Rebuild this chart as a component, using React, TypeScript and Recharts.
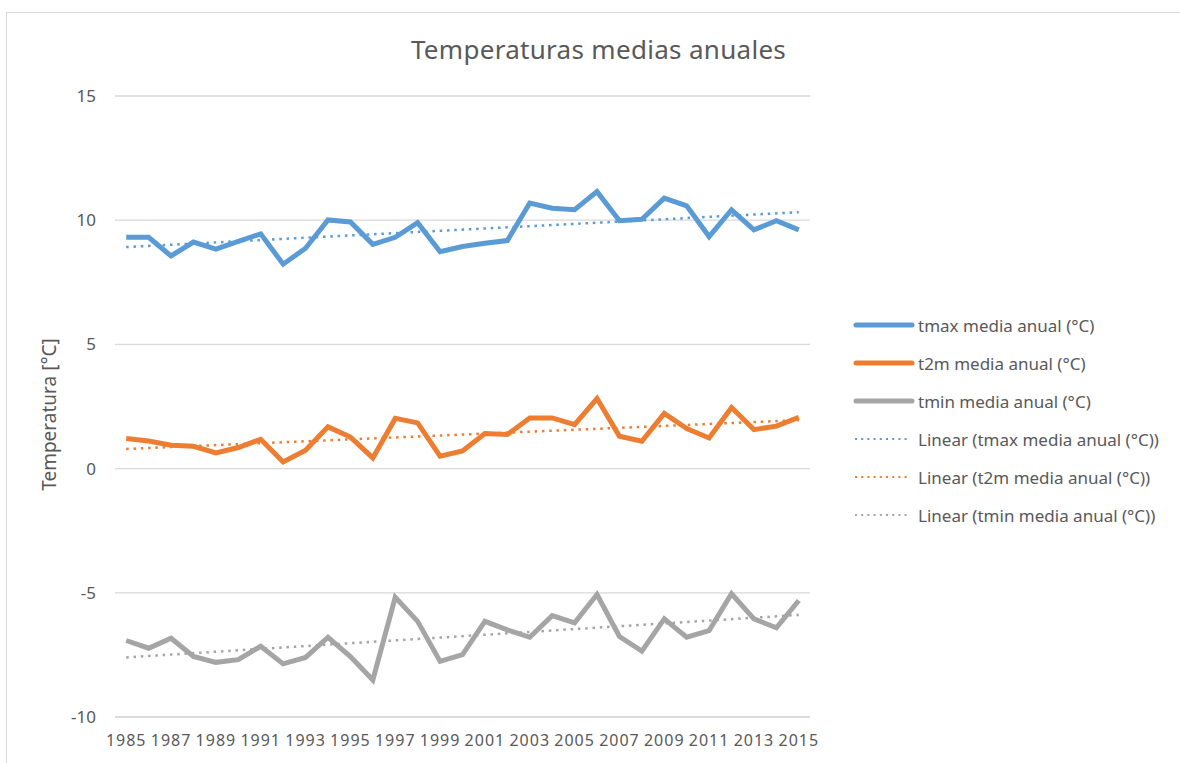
import React from 'react';
import { LineChart, Line, XAxis, YAxis, CartesianGrid, Legend } from 'recharts';

const years = [1985, 1986, 1987, 1988, 1989, 1990, 1991, 1992, 1993, 1994, 1995, 1996, 1997, 1998, 1999, 2000, 2001, 2002, 2003, 2004, 2005, 2006, 2007, 2008, 2009, 2010, 2011, 2012, 2013, 2014, 2015];
const tmax = [9.31, 9.31, 8.56, 9.12, 8.84, 9.15, 9.45, 8.23, 8.87, 10.01, 9.93, 9.03, 9.31, 9.9, 8.73, 8.94, 9.07, 9.18, 10.69, 10.48, 10.42, 11.15, 9.98, 10.04, 10.89, 10.58, 9.34, 10.42, 9.61, 9.98, 9.61];
const t2m = [1.21, 1.11, 0.94, 0.9, 0.63, 0.85, 1.18, 0.27, 0.74, 1.68, 1.27, 0.43, 2.02, 1.84, 0.5, 0.71, 1.41, 1.37, 2.04, 2.04, 1.77, 2.82, 1.3, 1.1, 2.22, 1.61, 1.23, 2.46, 1.57, 1.71, 2.06];
const tmin = [-6.92, -7.23, -6.83, -7.56, -7.8, -7.69, -7.15, -7.86, -7.6, -6.79, -7.57, -8.51, -5.18, -6.15, -7.76, -7.49, -6.15, -6.49, -6.79, -5.92, -6.21, -5.07, -6.76, -7.35, -6.05, -6.79, -6.52, -5.04, -6.05, -6.41, -5.31];

const trendYears = [1985, 2015];
const tmaxTrend = [8.92, 10.32];
const t2mTrend = [0.79, 1.95];
const tminTrend = [-7.6, -5.89];

const xTicks = [1985, 1987, 1989, 1991, 1993, 1995, 1997, 1999, 2001, 2003, 2005, 2007, 2009, 2011, 2013, 2015];
const yTicks = [-10, -5, 0, 5, 10, 15];

const C_MAX = '#5B9BD5';
const C_2M = '#ED7D31';
const C_MIN = '#A5A5A5';
const FONT = '"Noto Sans", sans-serif';
const TXT = '#595959';

const data = years.map((year, i) => {
  const ti = trendYears.indexOf(year);
  return {
    year,
    tmax: tmax[i],
    t2m: t2m[i],
    tmin: tmin[i],
    tmaxTrend: ti >= 0 ? tmaxTrend[ti] : null,
    t2mTrend: ti >= 0 ? t2mTrend[ti] : null,
    tminTrend: ti >= 0 ? tminTrend[ti] : null,
  };
});

const legendItems = [
  { name: 'tmax media anual (°C)', color: C_MAX, dotted: false },
  { name: 't2m media anual (°C)', color: C_2M, dotted: false },
  { name: 'tmin media anual (°C)', color: C_MIN, dotted: false },
  { name: 'Linear (tmax media anual (°C))', color: C_MAX, dotted: true },
  { name: 'Linear (t2m media anual (°C))', color: C_2M, dotted: true },
  { name: 'Linear (tmin media anual (°C))', color: C_MIN, dotted: true },
];

const renderLegend = () => (
  <div style={{ fontFamily: FONT }}>
    {legendItems.map((it) => (
      <div key={it.name} style={{ display: 'flex', alignItems: 'center', height: 38 }}>
        <svg width={65} height={10} style={{ display: 'block' }}>
          {it.dotted ? (
            <line x1={2} y1={5} x2={56} y2={5} stroke={it.color} strokeWidth={2.2} strokeDasharray="2 4.2" />
          ) : (
            <line x1={3} y1={5} x2={59} y2={5} stroke={it.color} strokeWidth={5} strokeLinecap="round" />
          )}
        </svg>
        <span style={{ fontSize: 17, color: TXT, whiteSpace: 'nowrap' }}>{it.name}</span>
      </div>
    ))}
  </div>
);

const YLabel = (props: any) => {
  const vb = props.viewBox || { x: 0, y: 0, width: 0, height: 0 };
  const cx = 49;
  const cy = vb.y + vb.height / 2 + 8;
  return (
    <text
      x={cx}
      y={cy}
      transform={`rotate(-90, ${cx}, ${cy})`}
      textAnchor="middle"
      dominantBaseline="central"
      fill={TXT}
      fontSize={19}
      fontFamily={FONT}
    >
      Temperatura [°C]
    </text>
  );
};

export default function App() {
  return (
    <div style={{ position: 'absolute', left: 0, top: 0, width: 1180, height: 763, overflow: 'hidden', background: '#fff' }}>
      <div style={{ position: 'absolute', left: 6, top: 12, width: 1300, height: 900, border: '1px solid #d9d9d9' }} />
      <div
        style={{
          position: 'absolute',
          left: 0,
          top: 31,
          width: 1197,
          textAlign: 'center',
          fontFamily: FONT,
          fontSize: 26,
          color: TXT,
          letterSpacing: 0.3,
        }}
      >
        Temperaturas medias anuales
      </div>
      <div style={{ position: 'absolute', left: 0, top: 0 }}>
        <LineChart width={1180} height={763} data={data} margin={{ top: 96, right: 370, bottom: 16, left: 55 }}>
          <CartesianGrid vertical={false} stroke="#d9d9d9" strokeWidth={1.3} />
          <XAxis
            dataKey="year"
            type="number"
            domain={[1984.5, 2015.5]}
            ticks={xTicks}
            interval={0}
            axisLine={{ stroke: '#d9d9d9', strokeWidth: 1.3 }}
            tickLine={false}
            tickMargin={12}
            height={30}
            tick={{ fill: TXT, fontSize: 16, fontFamily: FONT, letterSpacing: 1 }}
          />
          <YAxis
            type="number"
            domain={[-10, 15]}
            ticks={yTicks}
            interval={0}
            axisLine={false}
            tickLine={false}
            width={60}
            tickMargin={13}
            tick={{ fill: TXT, fontSize: 17, fontFamily: FONT }}
            label={<YLabel />}
          />
          <Legend
            layout="vertical"
            align="center"
            verticalAlign="middle"
            content={renderLegend}
            wrapperStyle={{ left: 853, top: 306, width: 327 }}
          />
          <Line dataKey="tmax" name="tmax media anual (°C)" stroke={C_MAX} strokeWidth={5} dot={false} isAnimationActive={false} strokeLinejoin="miter" />
          <Line dataKey="t2m" name="t2m media anual (°C)" stroke={C_2M} strokeWidth={5} dot={false} isAnimationActive={false} strokeLinejoin="miter" />
          <Line dataKey="tmin" name="tmin media anual (°C)" stroke={C_MIN} strokeWidth={5} dot={false} isAnimationActive={false} strokeLinejoin="miter" />
          <Line dataKey="tmaxTrend" name="Linear (tmax media anual (°C))" stroke={C_MAX} strokeWidth={2.5} strokeDasharray="2.5 4.8" dot={false} connectNulls isAnimationActive={false} />
          <Line dataKey="t2mTrend" name="Linear (t2m media anual (°C))" stroke={C_2M} strokeWidth={2.5} strokeDasharray="2.5 4.8" dot={false} connectNulls isAnimationActive={false} />
          <Line dataKey="tminTrend" name="Linear (tmin media anual (°C))" stroke={C_MIN} strokeWidth={2.5} strokeDasharray="2.5 4.8" dot={false} connectNulls isAnimationActive={false} />
        </LineChart>
      </div>
    </div>
  );
}
